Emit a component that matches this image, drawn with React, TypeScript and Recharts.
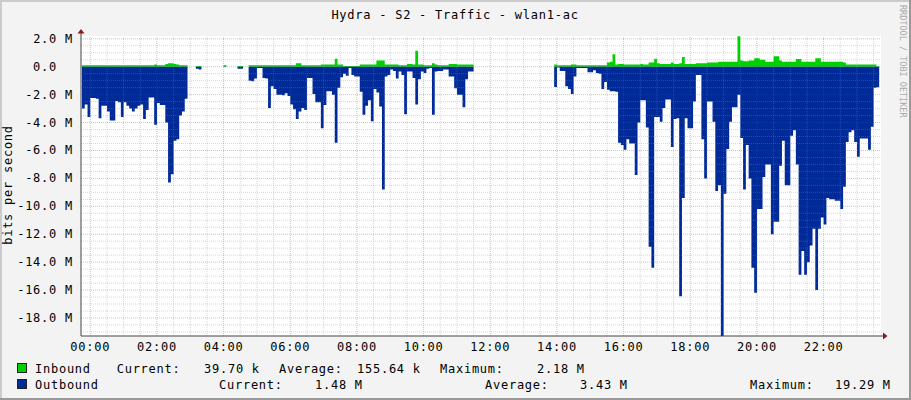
import { AreaChart, Area, XAxis, YAxis, CartesianGrid, ReferenceLine, ReferenceDot } from 'recharts';

// 5 minute samples, first one at 23:45 the day before (hours relative to midnight)
const FIRST_SAMPLE = -0.25;
const STEP = 5 / 60;

// inbound traffic, Mbit/s
const inboundM: (number | null)[] = [
  0.1, 0.1, 0.1, 0.1, 0.1, 0.1, 0.1, 0.1, 0.1, 0.1,
  0.1, 0.1, 0.1, 0.1, 0.1, 0.1, 0.1, 0.1, 0.1, 0.1,
  0.1, 0.1, 0.1, 0.1, 0.1, 0.1, 0.15, 0.1, 0.1, 0.1,
  0.2, 0.25, 0.25, 0.2, 0.15, 0.1, 0.1, 0.1, 0.1, null,
  null, 0.05, 0.05, 0.05, null, null, null, null, 0.1, null,
  null, 0.1, 0.1, null, null, null, 0.05, 0.05, 0.05, null,
  0.1, 0.1, 0.1, 0.1, 0.1, 0.1, 0.1, 0.1, 0.1, 0.1,
  0.1, 0.1, 0.1, 0.1, 0.1, 0.1, 0.1, 0.25, 0.25, 0.1,
  0.1, 0.1, 0.1, 0.1, 0.1, 0.1, 0.15, 0.15, 0.15, 0.15,
  0.15, 0.57, 0.15, 0.15, 0.05, 0.05, 0.05, 0.05, 0.05, 0.05,
  0.15, 0.15, 0.15, 0.15, 0.15, 0.15, 0.45, 0.45, 0.45, 0.15,
  0.15, 0.15, 0.15, 0.15, 0.1, 0.1, 0.1, 0.2, 0.2, 0.15,
  1.15, 0.15, 0.15, 0.1, 0.1, 0.1, 0.25, 0.15, 0.1, 0.1,
  0.1, 0.1, 0.2, 0.2, 0.2, 0.15, 0.15, 0.15, 0.15, 0.15,
  0.15, 0.15, null, null, null, null, null, null, null, null,
  null, null, null, null, null, null, null, null, null, null,
  null, null, null, null, null, null, null, null, null, null,
  0.15, 0.1, 0.1, 0.1, 0.1, 0.1, 0.15, 0.15, 0.1, 0.1,
  0.1, 0.1, 0.1, 0.1, 0.1, 0.1, 0.1, 0.1, 0.1, 0.3,
  0.35, 0.9, 0.15, 0.2, 0.2, 0.15, 0.15, 0.15, 0.15, 0.15,
  0.15, 0.2, 0.15, 0.15, 0.3, 0.3, 0.57, 0.25, 0.2, 0.2,
  0.2, 0.2, 0.3, 0.2, 0.2, 0.25, 0.7, 0.2, 0.2, 0.2,
  0.2, 0.25, 0.25, 0.25, 0.25, 0.3, 0.3, 0.3, 0.3, 0.35,
  0.35, 0.35, 0.35, 0.35, 0.35, 0.35, 2.18, 0.45, 0.4, 0.4,
  0.45, 0.45, 0.6, 0.6, 0.5, 0.5, 0.35, 0.35, 0.35, 0.75,
  0.75, 0.45, 0.35, 0.35, 0.35, 0.35, 0.35, 0.55, 0.55, 0.35,
  0.35, 0.35, 0.35, 0.35, 0.6, 0.6, 0.35, 0.35, 0.35, 0.35,
  0.35, 0.35, 0.35, 0.35, 0.3, 0.15, 0.15, 0.15, 0.15, 0.15,
  0.15, 0.15, 0.15, 0.15, 0.15, 0.15, 0.04, 0.04,
];

// outbound traffic, Mbit/s (drawn below zero)
const outboundM: (number | null)[] = [
  3.0, 2.7, 3.6, 2.25, 2.25, 2.3, 3.7, 2.8, 2.8, 3.2,
  3.85, 3.85, 2.45, 2.55, 3.6, 2.55, 2.8, 3.0, 3.2, 3.0,
  2.8, 2.7, 3.75, 3.1, 2.2, 2.2, 4.15, 2.6, 2.75, 2.75,
  4.0, 8.3, 7.7, 5.3, 5.2, 3.5, 3.2, 2.3, 2.2, null,
  null, 0.15, 0.2, 0.2, null, null, null, null, 0.02, null,
  null, 0.02, 0.02, null, null, null, 0.15, 0.15, 0.15, null,
  1.0, 1.05, 0.85, 0.1, 0.1, 0.8, 0.85, 2.95, 1.4, 1.6,
  2.0, 2.0, 2.05, 1.9, 2.1, 2.7, 3.05, 3.75, 3.2, 2.95,
  3.1, 0.8, 0.8, 1.95, 2.55, 2.55, 4.4, 2.75, 1.75, 1.75,
  2.0, 5.45, 1.5, 0.75, 0.5, 0.65, 0.1, 0.6, 0.7, 0.7,
  1.8, 3.45, 2.8, 2.4, 3.9, 1.6, 1.85, 2.85, 8.8, 0.7,
  0.6, 0.2, 0.3, 0.85, 0.35, 0.6, 3.4, 0.35, 0.35, 0.8,
  2.7, 0.9, 0.35, 0.45, 0.15, 0.1, 3.45, 0.35, 0.3, 0.3,
  0.2, 0.2, 0.7, 0.7, 1.55, 2.0, 2.0, 2.9, 0.9, 0.35,
  0.35, 0.3, null, null, null, null, null, null, null, null,
  null, null, null, null, null, null, null, null, null, null,
  null, null, null, null, null, null, null, null, null, null,
  1.45, 0.05, 0.3, 0.3, 1.4, 1.6, 1.95, 0.7, 0.1, 0.1,
  0.1, 0.1, 0.4, 0.4, 0.25, 0.45, 0.5, 1.6, 1.1, 1.65,
  1.75, 1.75, 1.8, 5.45, 5.6, 5.95, 5.2, 5.5, 5.5, 7.75,
  4.0, 2.4, 2.4, 4.35, 12.9, 14.4, 3.6, 3.6, 3.95, 2.95,
  2.35, 2.35, 5.75, 3.75, 3.7, 16.45, 9.4, 3.7, 4.4, 4.4,
  2.5, 0.6, 0.6, 5.2, 8.0, 2.5, 2.5, 3.95, 8.9, 8.5,
  19.29, 9.1, 5.9, 3.95, 2.9, 2.9, 2.0, 5.1, 8.8, 5.6,
  8.0, 14.4, 16.2, 10.2, 10.2, 7.9, 7.0, 7.0, 12.0, 11.1,
  11.1, 7.1, 5.3, 8.5, 8.5, 4.95, 4.55, 7.0, 14.9, 13.2,
  14.9, 14.0, 12.8, 11.6, 16.0, 11.6, 10.8, 11.3, 9.4, 9.5,
  9.5, 9.6, 9.6, 10.2, 8.6, 5.4, 4.7, 4.55, 5.4, 6.45,
  5.15, 5.15, 5.15, 5.95, 4.3, 1.5, 1.48, 1.48,
];

const hourTicks = [0, 2, 4, 6, 8, 10, 12, 14, 16, 18, 20, 22];
const valueTicks = [2, 0, -2, -4, -6, -8, -10, -12, -14, -16, -18];

const inboundStats = ['39.70 k', '155.64 k', '2.18 M'];
const outboundStats = ['1.48 M', '3.43 M', '19.29 M'];

const X_DOMAIN: [number, number] = [-0.279, 23.721];
const Y_DOMAIN: [number, number] = [-19.29, 2.2];

const GREEN = '#00CF00';
const BLUE = '#002A97';
const FONT = "'DejaVu Sans Mono', monospace";
const TXT = { fontFamily: FONT, fontSize: 12, letterSpacing: '0.75px', fill: '#000' };

const data = inboundM.map((v, i) => ({
  t: FIRST_SAMPLE + i * STEP,
  inbound: v,
  outbound: outboundM[i] == null ? null : -(outboundM[i] as number),
}));

// grid every 30 min / 0.5 M, major lines every 2 h / 2 M
const minorHours: number[] = [];
for (let h = 0.5; h < 24; h += 0.5) if (h % 2 !== 0) minorHours.push(h);
const minorValues: number[] = [];
for (let v = -19; v <= 2; v += 0.5) if (v % 2 !== 0) minorValues.push(v);

const pad = (n: number) => String(n).padStart(2, '0');

const HourTick = ({ x, y, payload }: any) => (
  <text x={x} y={y + 15} textAnchor="middle" style={TXT}>
    {`${pad(payload.value)}:00`}
  </text>
);

const ValueTick = ({ x, y, payload }: any) => {
  const v = payload.value;
  return (
    <text x={x - 8 - (v === 0 ? 16 : 0)} y={y + 4} textAnchor="end" style={TXT}>
      {v === 0 ? '0.0' : `${v.toFixed(1)} M`}
    </text>
  );
};

const XArrow = ({ cx, cy }: any) => (
  <g>
    <line x1={cx} y1={cy} x2={cx + 3} y2={cy} stroke="#444" />
    <path d={`M${cx + 2},${cy - 3.5}L${cx + 6.5},${cy}L${cx + 2},${cy + 3.5}Z`} fill="#8B1A1A" />
  </g>
);

const YArrow = ({ cx, cy }: any) => (
  <g>
    <line x1={cx} y1={cy} x2={cx} y2={cy - 3} stroke="#444" />
    <path d={`M${cx - 3.5},${cy - 2.5}L${cx},${cy - 7}L${cx + 3.5},${cy - 2.5}Z`} fill="#8B1A1A" />
  </g>
);

export default function App() {
  return (
    <div
      style={{
        position: 'relative',
        width: 911,
        height: 400,
        background: '#f3f3f3',
        boxShadow: 'inset -2px -2px 0 #999999, inset 2px 2px 0 #cbcbcb',
      }}
    >
      <style>{'body{margin:0}'}</style>
      <AreaChart width={911} height={400} data={data} margin={{ top: 36, right: 30, bottom: 0, left: 0 }}>
        <CartesianGrid fill="#ffffff" horizontal={false} vertical={false} />
        <XAxis
          dataKey="t"
          type="number"
          domain={X_DOMAIN}
          ticks={hourTicks}
          interval={0}
          allowDataOverflow
          height={64}
          tickSize={0}
          tickMargin={0}
          tickLine={false}
          axisLine={{ stroke: '#444' }}
          tick={<HourTick />}
        />
        <YAxis
          type="number"
          domain={Y_DOMAIN}
          ticks={valueTicks}
          interval={0}
          allowDataOverflow
          width={81}
          tickSize={0}
          tickMargin={0}
          tickLine={false}
          axisLine={{ stroke: '#444' }}
          tick={<ValueTick />}
        />
        <Area
          type="stepAfter"
          dataKey="inbound"
          stroke="none"
          fill={GREEN}
          fillOpacity={1}
          baseValue={0}
          dot={false}
          activeDot={false}
          isAnimationActive={false}
        />
        <Area
          type="stepAfter"
          dataKey="outbound"
          stroke="none"
          fill={BLUE}
          fillOpacity={1}
          baseValue={0}
          dot={false}
          activeDot={false}
          isAnimationActive={false}
        />
        {minorValues.map((v) => (
          <ReferenceLine key={`mv${v}`} y={v} stroke="rgba(140,140,140,0.35)" strokeDasharray="1 1" />
        ))}
        {minorHours.map((h) => (
          <ReferenceLine key={`mh${h}`} x={h} stroke="rgba(140,140,140,0.35)" strokeDasharray="1 1" />
        ))}
        {valueTicks.map((v) => (
          <ReferenceLine key={`Mv${v}`} y={v} stroke="rgba(200,40,40,0.35)" strokeDasharray="1 1" />
        ))}
        {hourTicks.map((h) => (
          <ReferenceLine key={`Mh${h}`} x={h} stroke="rgba(200,40,40,0.35)" strokeDasharray="1 1" />
        ))}
        <ReferenceDot x={X_DOMAIN[1]} y={Y_DOMAIN[0]} ifOverflow="visible" shape={<XArrow />} />
        <ReferenceDot x={X_DOMAIN[0]} y={Y_DOMAIN[1]} ifOverflow="visible" shape={<YArrow />} />
      </AreaChart>

      <svg width={911} height={400} style={{ position: 'absolute', left: 0, top: 0, pointerEvents: 'none' }}>
        <text x={455} y={19} textAnchor="middle" style={TXT}>
          Hydra - S2 - Traffic - wlan1-ac
        </text>
        <text transform="translate(12,185) rotate(-90)" textAnchor="middle" style={TXT}>
          bits per second
        </text>
        <text
          transform="translate(899.5,5) rotate(90)"
          style={{ fontFamily: FONT, fontSize: 8.5, fill: '#aaaaaa' }}
        >
          RRDTOOL / TOBI OETIKER
        </text>

        <rect x={17.5} y={363.5} width={9} height={9} fill={GREEN} stroke="#222" />
        <text x={35} y={372.5} style={TXT}>Inbound</text>
        <text x={116.7} y={372.5} style={TXT}>Current:</text>
        <text x={204} y={372.5} style={TXT}>{inboundStats[0]}</text>
        <text x={279} y={372.5} style={TXT}>Average:</text>
        <text x={357} y={372.5} style={TXT}>{inboundStats[1]}</text>
        <text x={440} y={372.5} style={TXT}>Maximum:</text>
        <text x={537} y={372.5} style={TXT}>{inboundStats[2]}</text>

        <rect x={17.5} y={379.5} width={9} height={9} fill={BLUE} stroke="#222" />
        <text x={35} y={388.5} style={TXT}>Outbound</text>
        <text x={219} y={388.5} style={TXT}>Current:</text>
        <text x={315} y={388.5} style={TXT}>{outboundStats[0]}</text>
        <text x={485} y={388.5} style={TXT}>Average:</text>
        <text x={580} y={388.5} style={TXT}>{outboundStats[1]}</text>
        <text x={750} y={388.5} style={TXT}>Maximum:</text>
        <text x={835} y={388.5} style={TXT}>{outboundStats[2]}</text>
      </svg>
    </div>
  );
}
